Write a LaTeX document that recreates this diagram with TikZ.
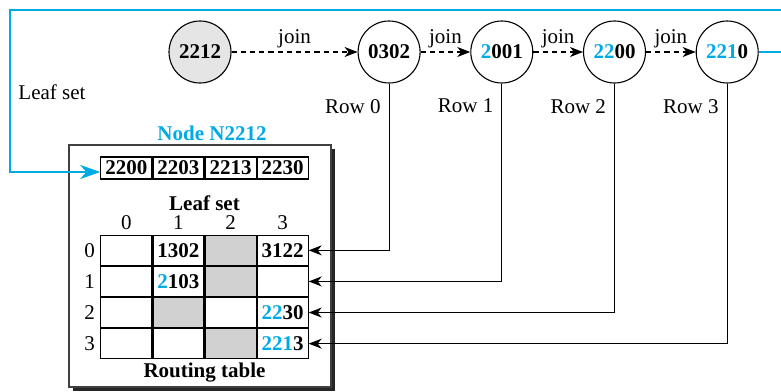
\documentclass[tikz,border=0pt]{standalone}
\usepackage{fontspec}
\setmainfont{Liberation Serif}
\usepackage{tikz}
\usetikzlibrary{shapes,arrows,arrows.meta,positioning,calc,matrix,shadows}
\definecolor{pastry}{RGB}{0,170,230}
\tikzset{
    peer/.style = {draw, circle, minimum size=31pt, inner sep=0pt, font=\bfseries},
    cell/.style = {draw, rectangle, anchor=center, minimum width=25.5pt, minimum height=15pt, inner sep=0pt, font=\bfseries},
    grayed/.style = {fill=black!18},
    celltable/.style = {matrix of nodes, nodes in empty cells, nodes={cell}, column sep=0pt, row sep=0pt, inner sep=0pt},
    nodeframe/.style = {draw=black!75, fill=white, minimum width=131pt, minimum height=121pt,
        drop shadow={shadow xshift=2pt, shadow yshift=-2pt, fill=black!85, opacity=1}},
    joinarrow/.style = {->, dashed, dash pattern=on 2.6pt off 2pt},
    leafpath/.style = {-{Stealth[length=10pt, width=7pt, inset=3pt]}, draw=pastry, line width=1.3pt},
}
\newcommand{\hi}[1]{\textcolor{pastry}{#1}}

\begin{document}
\fontsize{10.5}{12.6}\selectfont
\begin{tikzpicture}[x=0.5pt, y=-0.5pt, node distance=24.8pt, >={Stealth[length=6.5pt, width=5pt, inset=2pt]}, line width=0.55pt]
    \clip (0,0) rectangle (781,391);
    % Joining peers
    \node[peer, fill=black!10] (n2212) at (200,52) {2212};
    \node[peer, right=63pt of n2212] (n0302) {0302};
    \node[peer, right=of n0302] (n2001) {\hi{2}001};
    \node[peer, right=of n2001] (n2200) {\hi{22}00};
    \node[peer, right=of n2200] (n2210) {\hi{221}0};
    
    \draw[joinarrow] (n2212) -- node[above=-2pt] (j0) {join} (n0302);
    \draw[joinarrow] (n0302) -- node[above=-2pt] (j1) {join} (n2001);
    \draw[joinarrow] (n2001) -- node[above=-2pt] (j2) {join} (n2200);
    \draw[joinarrow] (n2200) -- node[above=-2pt] (j3) {join} (n2210);
    
    % State of node N2212
    \node[nodeframe] (frame) at (200,266) {};
    \node[font=\bfseries, text=pastry] (title) at (212,133) {Node N2212};
    
    \matrix[celltable, nodes={minimum height=11pt}] (ls) at (204.5,168) {
        2200 & 2203 & 2213 & 2230 \\
    };
    \node[font=\bfseries, below=4pt of ls] (lslabel) {Leaf set};
    
    \matrix[celltable] (rt) at (204.5,297) {
        & 1302 & |[grayed]| & 3122 \\
        & \hi{2}103 & |[grayed]| & \\
        & |[grayed]| & & \hi{22}30 \\
        & & |[grayed]| & \hi{221}3 \\
    };
    \node[font=\bfseries, below=-2pt of rt] (rtlabel) {Routing table};
    \foreach \i/\d in {1/0,2/1,3/2,4/3} {
        \node[above=-1pt of rt-1-\i] (cnum\d) {\d};
        \node[left=-1pt of rt-\i-1] (rnum\d) {\d};
    }
    
    % Leaf set
    \coordinate (corner) at (10,10);
    \draw[leafpath] (n2210.east) -- ++(40,0) |- (corner) |- ([yshift=-2pt]ls-1-1.west);
    \node (leaflabel) at (52,92) {Leaf set};
    
    % Routing table rows
    \draw[->] (n0302) |- (rt-1-4);
    \draw[->] (n2001) |- (rt-2-4);
    \draw[->] (n2200) |- (rt-3-4);
    \draw[->] (n2210) |- (rt-4-4);
    \node[below left=4pt and 0.5pt of n0302.south] (rowlbl0) {Row 0};
    \node[below left=4pt and 0.5pt of n2001.south] (rowlbl1) {Row 1};
    \node[below left=4pt and 0.5pt of n2200.south] (rowlbl2) {Row 2};
    \node[below left=4pt and 0.5pt of n2210.south] (rowlbl3) {Row 3};
\end{tikzpicture}
\end{document}
